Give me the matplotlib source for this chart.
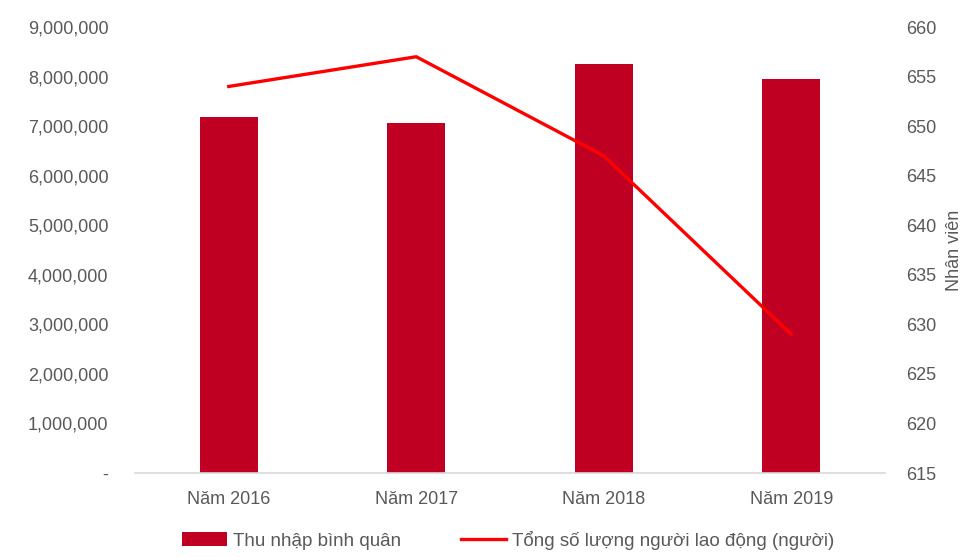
import matplotlib
matplotlib.use("Agg")
import matplotlib.pyplot as plt
from matplotlib.ticker import FuncFormatter, FixedLocator

categories = ["Năm 2016", "Năm 2017", "Năm 2018", "Năm 2019"]
income = [7180000, 7060000, 8250000, 7950000]
workers = [654, 657, 647, 629]
left_ticks = [0, 1000000, 2000000, 3000000, 4000000, 5000000, 6000000, 7000000, 8000000, 9000000]
right_ticks = [615, 620, 625, 630, 635, 640, 645, 650, 655, 660]
bar_label = "Thu nhập bình quân"
line_label = "Tổng số lượng người lao động (người)"
right_axis_title = "Nhân viên"

plt.rcParams['font.family'] = ['Liberation Sans', 'DejaVu Sans']
text_color = "#595959"
fs = 13

fig = plt.figure(figsize=(9.69, 5.57), dpi=100)
ax = fig.add_axes([135/969, 1-473/557, 750/969, 446/557])
x = list(range(len(categories)))
bars = ax.bar(x, income, width=0.31, color="#C00023", label=bar_label, zorder=2)
ax.set_xlim(-0.5, len(categories) - 0.5)
ax.set_ylim(0, 9000000)
ax.yaxis.set_major_locator(FixedLocator(left_ticks))
ax.yaxis.set_major_formatter(FuncFormatter(lambda v, p: "-" if v == 0 else f"{int(v):,}"))
ax.set_xticks(x)
ax.set_xticklabels(categories)
for s in ["top", "left", "right"]:
    ax.spines[s].set_visible(False)
ax.spines["bottom"].set_color("#D9D9D9")
ax.spines["bottom"].set_linewidth(1.2)
ax.tick_params(axis="y", length=0, pad=19, labelsize=fs, colors=text_color)
ax.tick_params(axis="x", length=0, pad=13, labelsize=fs, colors=text_color)

ax2 = ax.twinx()
line, = ax2.plot(x, workers, color="#FF0000", linewidth=2.4, label=line_label, zorder=3,
                 solid_joinstyle="round")
ax2.set_ylim(615, 660)
ax2.yaxis.set_major_locator(FixedLocator(right_ticks))
for s in ["top", "left", "right", "bottom"]:
    ax2.spines[s].set_visible(False)
ax2.tick_params(axis="y", length=0, pad=15, labelsize=fs, colors=text_color)
ax2.set_ylabel(right_axis_title, fontsize=fs, color=text_color, labelpad=7)

fig.legend([bars, line], [bar_label, line_label], loc="center",
           bbox_to_anchor=(508/969, 1-540/557), ncol=2, frameon=False,
           fontsize=13.5, labelcolor=text_color, handlelength=2.4,
           handletextpad=0.3, columnspacing=3.2)

fig.savefig("out.png", dpi=100)
